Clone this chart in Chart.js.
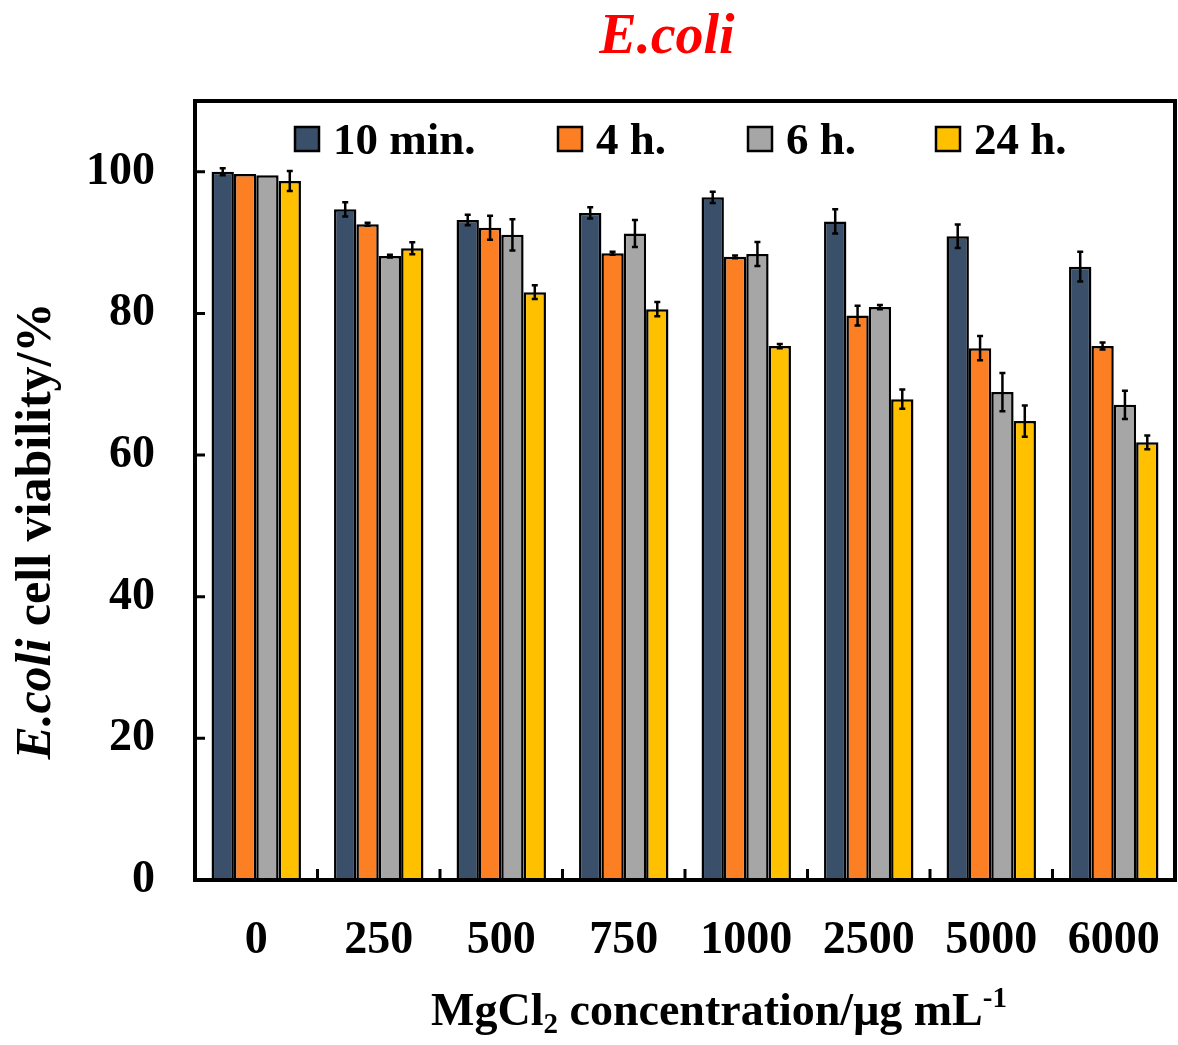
<!DOCTYPE html>
<html>
<head>
<meta charset="utf-8">
<script src="https://cdn.jsdelivr.net/npm/chart.js@4.4.1/dist/chart.umd.min.js"></script>
<style>
  html, body { margin: 0; padding: 0; background: #fff; }
</style>
</head>
<body>
<canvas id="viability" width="1178" height="1045"></canvas>
<script>
// MgCl2 concentrations (ug/mL)
const concentrations = ['0', '250', '500', '750', '1000', '2500', '5000', '6000'];
const seriesLabels = ['10 min.', '4 h.', '6 h.', '24 h.'];
const seriesColors = ['#3a4f69', '#fd7f23', '#a6a6a6', '#ffc000'];

// cell viability, %
const viability10min = [100.0, 94.7, 93.2, 94.2, 96.4, 93.0, 90.9, 86.6];
const viability4h    = [99.7, 92.6, 92.1, 88.5, 88.0, 79.7, 75.1, 75.4];
const viability6h    = [99.5, 88.1, 91.1, 91.3, 88.4, 80.9, 68.9, 67.1];
const viability24h   = [98.7, 89.2, 83.0, 80.6, 75.4, 67.9, 64.8, 61.8];

// standard deviations
const sd10min = [0.5, 1.0, 0.75, 0.8, 0.8, 1.7, 1.65, 2.1];
const sd4h    = [0, 0.2, 1.7, 0.2, 0.2, 1.4, 1.7, 0.5];
const sd6h    = [0, 0.2, 2.2, 1.9, 1.7, 0.3, 2.7, 2.0];
const sd24h   = [1.4, 0.85, 0.97, 1.0, 0.3, 1.35, 2.2, 0.97];

const yTicks = [0, 20, 40, 60, 80, 100];

const SERIF = '"Liberation Serif", "Times New Roman", serif';
const seriesValues = [viability10min, viability4h, viability6h, viability24h];
const seriesErrors = [sd10min, sd4h, sd6h, sd24h];

// text made of runs with their own font and vertical shift
function drawRuns(ctx, runs, x, y, align) {
    let total = 0;
    runs.forEach(r => { ctx.font = r.font; total += ctx.measureText(r.text).width; });
    let cx = align === 'center' ? x - total / 2 : x;
    ctx.textAlign = 'left';
    ctx.textBaseline = 'alphabetic';
    runs.forEach(r => {
        ctx.font = r.font;
        ctx.fillText(r.text, cx, y + (r.dy || 0));
        cx += ctx.measureText(r.text).width;
    });
}

const decorations = {
    id: 'decorations',
    afterDatasetsDraw(chart) {
        const ctx = chart.ctx;
        const yScale = chart.scales.y;
        ctx.save();
        ctx.strokeStyle = '#000';
        ctx.lineWidth = 2.5;
        seriesErrors.forEach((errs, i) => {
            const meta = chart.getDatasetMeta(i);
            errs.forEach((e, j) => {
                if (!e) return;
                const x = meta.data[j].x;
                const v = seriesValues[i][j];
                const top = yScale.getPixelForValue(v + e);
                const bot = yScale.getPixelForValue(v - e);
                ctx.beginPath();
                ctx.moveTo(x, top); ctx.lineTo(x, bot);
                ctx.moveTo(x - 3, top); ctx.lineTo(x + 3, top);
                ctx.moveTo(x - 3, bot); ctx.lineTo(x + 3, bot);
                ctx.stroke();
            });
        });
        ctx.restore();
    },
    afterDraw(chart) {
        const ctx = chart.ctx;
        const area = chart.chartArea;
        const xScale = chart.scales.x;
        const yScale = chart.scales.y;
        ctx.save();

        // frame
        ctx.strokeStyle = '#000';
        ctx.lineWidth = 4;
        ctx.strokeRect(area.left, area.top, area.right - area.left, area.bottom - area.top);

        // inward tick marks
        ctx.lineWidth = 3;
        ctx.beginPath();
        yTicks.forEach(v => {
            const y = yScale.getPixelForValue(v);
            ctx.moveTo(area.left, y); ctx.lineTo(area.left + 10, y);
        });
        for (let i = 0; i < concentrations.length - 1; i++) {
            const x = (xScale.getPixelForTick(i) + xScale.getPixelForTick(i + 1)) / 2;
            ctx.moveTo(x, area.bottom); ctx.lineTo(x, area.bottom - 11);
        }
        ctx.stroke();

        // legend inside the plot
        const legendX = [295, 558, 748, 936];
        ctx.font = 'bold 45px ' + SERIF;
        ctx.textBaseline = 'alphabetic';
        ctx.textAlign = 'left';
        seriesLabels.forEach((label, i) => {
            const bx = legendX[i];
            ctx.fillStyle = seriesColors[i];
            ctx.fillRect(bx, 127, 24, 24);
            ctx.lineWidth = 2.5;
            ctx.strokeRect(bx, 127, 24, 24);
            ctx.fillStyle = '#000';
            ctx.fillText(label, bx + 38, 154);
        });

        // title
        ctx.fillStyle = '#ff0000';
        ctx.font = 'italic bold 56px ' + SERIF;
        ctx.textAlign = 'center';
        ctx.fillText('E.coli', 667, 53);

        // axis titles
        ctx.fillStyle = '#000';
        drawRuns(ctx, [
            { text: 'MgCl', font: 'bold 46px ' + SERIF },
            { text: '2', font: 'bold 29px ' + SERIF, dy: 8 },
            { text: ' concentration/\u03bcg mL', font: 'bold 46px ' + SERIF },
            { text: '-1', font: 'bold 29px ' + SERIF, dy: -18 }
        ], 719, 1025, 'center');

        ctx.translate(50, 531);
        ctx.rotate(-Math.PI / 2);
        drawRuns(ctx, [
            { text: 'E.coli', font: 'italic bold 50px ' + SERIF },
            { text: ' cell viability/%', font: 'bold 50px ' + SERIF }
        ], 0, 0, 'center');
        ctx.restore();
    }
};

new Chart(document.getElementById('viability'), {
    type: 'bar',
    data: {
        labels: concentrations,
        datasets: seriesLabels.map((label, i) => ({
            label: label,
            data: seriesValues[i],
            backgroundColor: seriesColors[i],
            borderColor: '#000',
            borderWidth: 2.5,
            borderSkipped: 'bottom',
            categoryPercentage: 0.73,
            barPercentage: 1.0
        }))
    },
    options: {
        responsive: false,
        animation: false,
        devicePixelRatio: 1,
        layout: { padding: { top: 101, right: 3, bottom: 0, left: 0 } },
        plugins: {
            legend: { display: false },
            tooltip: { enabled: false }
        },
        scales: {
            x: {
                grid: { display: false, drawTicks: false },
                border: { display: false },
                ticks: {
                    color: '#000',
                    padding: 34,
                    font: { family: SERIF, size: 46, weight: 'bold' }
                },
                afterFit: scale => {
                    scale.height = 165;
                    scale.paddingLeft = 0;
                    scale.paddingRight = 0;
                }
            },
            y: {
                min: 0,
                max: 110,
                grid: { display: false, drawTicks: false },
                border: { display: false },
                afterBuildTicks: scale => { scale.ticks = yTicks.map(v => ({ value: v })); },
                ticks: {
                    color: '#000',
                    padding: 40,
                    font: { family: SERIF, size: 46, weight: 'bold' }
                },
                afterFit: scale => {
                    scale.width = 195;
                    scale.paddingTop = 0;
                    scale.paddingBottom = 0;
                }
            }
        }
    },
    plugins: [decorations]
});
</script>
</body>
</html>
